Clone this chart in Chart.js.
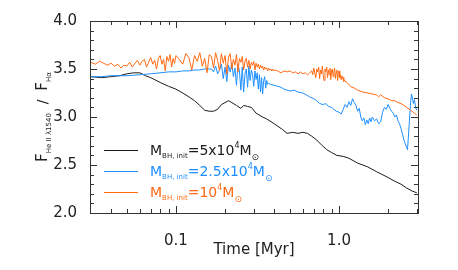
<!DOCTYPE html>
<html>
<head>
<meta charset="utf-8">
<script src="https://cdn.jsdelivr.net/npm/chart.js@4/dist/chart.umd.min.js"></script>
<style>
  html, body { margin: 0; padding: 0; background: #fff; }
  #wrap { width: 458px; height: 270px; }
</style>
</head>
<body>
<div id="wrap"><canvas id="chart" width="458" height="270"></canvas></div>
<script>
// M_BH,init = 5x10^4 Msun
const blackTime = [0.03,0.035,0.04,0.045,0.05,0.055,0.06,0.065,0.07,0.08,0.09,0.1,0.11,0.12,0.13,0.14,0.15,0.16,0.17,0.18,
  0.19,0.2,0.21,0.22,0.235,0.25,0.26,0.275,0.29,0.31,0.34,0.36,0.4,0.45,0.48,0.52,0.56,0.6,0.64,0.68,
  0.73,0.78,0.84,0.9,0.97,1.06,1.15,1.3,1.5,1.7,2.0,2.2,2.4,2.6,2.8,3.0];
const blackRatio = [3.42,3.41,3.42,3.43,3.45,3.46,3.46,3.43,3.41,3.36,3.32,3.29,3.25,3.21,3.17,3.12,3.07,3.06,3.06,3.08,
  3.13,3.15,3.17,3.15,3.12,3.09,3.12,3.11,3.10,3.04,3.00,2.98,2.93,2.87,2.83,2.84,2.83,2.84,2.83,2.80,
  2.76,2.71,2.66,2.63,2.60,2.59,2.57,2.52,2.48,2.43,2.37,2.33,2.30,2.26,2.23,2.21];

// M_BH,init = 2.5x10^4 Msun
const blueTime = [0.03,0.035,0.04,0.05,0.06,0.07,0.08,0.09,0.1,0.11,0.12,0.13,0.14,0.15,0.16,
  0.165,0.17,0.175,0.18,0.185,0.19,0.195,0.2,0.205,0.21,0.215,0.22,0.225,0.23,0.235,0.24,0.245,0.25,0.255,0.26,
  0.265,0.27,0.275,0.28,0.285,0.29,0.295,0.3,0.305,0.31,0.315,0.32,0.325,0.33,0.335,0.34,0.345,0.35,0.355,0.36,
  0.365,0.37,
  0.38,0.40,0.42,0.44,0.46,0.48,0.50,0.53,0.56,0.60,0.63,0.66,0.70,0.73,0.76,0.80,0.83,0.86,0.90,0.93,
  0.96,1.00,1.03,1.06,1.09,1.12,1.15,1.18,1.21,1.24,1.27,1.30,1.33,1.36,1.39,1.42,1.45,1.48,1.51,1.54,
  1.57,1.60,1.65,1.70,1.75,1.80,1.85,1.90,1.95,2.00,2.05,2.10,2.15,2.20,2.25,2.30,2.35,2.40,2.45,2.50,
  2.55,2.60,2.63,2.66,2.70,2.74,2.78,2.82,2.86,2.90,2.95,3.00];
const blueRatio = [3.42,3.42,3.43,3.43,3.44,3.45,3.46,3.47,3.47,3.48,3.48,3.49,3.49,3.50,3.50,
  3.50,3.47,3.53,3.45,3.49,3.55,3.40,3.52,3.37,3.54,3.47,3.56,3.42,3.51,3.33,3.55,3.48,3.28,3.52,3.26,
  3.45,3.50,3.31,3.53,3.38,3.49,3.44,3.32,3.48,3.39,3.46,3.29,3.44,3.26,3.41,3.24,3.38,3.42,3.30,3.38,
  3.34,3.35,
  3.34,3.33,3.32,3.31,3.29,3.28,3.27,3.28,3.26,3.25,3.23,3.21,3.19,3.17,3.14,3.13,3.14,3.11,3.10,3.08,
  3.06,3.05,3.03,3.08,3.13,3.10,3.16,3.12,3.19,3.15,3.12,3.06,3.09,3.00,2.96,2.99,2.92,2.97,2.93,2.99,
  2.95,3.00,2.96,2.98,2.93,2.95,3.05,3.10,3.08,3.13,3.09,3.06,3.04,3.00,3.02,2.96,2.93,2.88,2.82,2.76,
  2.72,2.68,2.66,2.78,2.95,3.12,3.24,3.20,3.14,3.18,3.10,3.07];

// M_BH,init = 10^4 Msun
const orangeTime = [0.030,0.032,0.034,0.036,0.038,0.040,0.042,0.044,0.046,0.048,0.050,0.052,0.054,0.056,0.058,0.060,0.062,0.064,
  0.066,0.068,0.070,0.072,0.074,0.076,0.078,0.080,0.082,0.084,0.086,0.088,0.090,0.092,0.094,0.096,0.098,0.100,
  0.105,0.110,0.115,0.120,0.125,0.130,0.135,0.140,0.145,0.150,0.155,0.160,0.165,0.170,0.175,0.180,0.185,0.190,0.195,0.200,
  0.205,0.210,0.215,0.220,0.225,0.230,0.235,0.240,0.245,0.250,0.255,0.260,0.265,0.270,0.275,0.280,0.285,0.290,0.295,0.300,
  0.305,0.310,0.315,0.320,0.325,0.330,0.335,0.340,0.345,0.350,0.355,0.360,0.365,0.370,0.375,0.380,0.385,0.390,0.395,0.400,
  0.42,0.44,0.46,0.48,0.50,0.52,0.54,0.56,0.58,0.60,0.62,0.64,0.66,
  0.68,0.69,0.70,0.71,0.72,0.73,0.74,0.75,0.76,0.77,0.78,0.79,0.80,0.81,0.82,0.83,0.84,0.85,0.86,0.87,
  0.88,0.89,0.90,0.91,0.92,0.93,0.94,0.95,0.96,0.97,0.98,0.99,1.00,1.01,1.02,1.03,1.04,1.05,1.06,1.07,1.08,
  1.12,1.16,1.2,1.25,1.3,1.4,1.5,1.6,1.7,1.75,1.8,1.9,2.0,2.1,2.2,2.3,2.4,2.5,2.6,2.7,2.8,2.9,3.0];
const orangeRatio = [3.57,3.55,3.58,3.56,3.54,3.56,3.53,3.55,3.51,3.54,3.53,3.57,3.52,3.56,3.59,3.54,3.58,3.60,
  3.52,3.57,3.62,3.55,3.59,3.50,3.61,3.64,3.55,3.60,3.48,3.63,3.58,3.65,3.52,3.61,3.56,3.64,
  3.60,3.55,3.66,3.62,3.49,3.64,3.58,3.67,3.53,3.61,3.46,3.65,3.63,3.51,3.67,3.59,3.48,3.66,3.56,3.64,
  3.45,3.62,3.66,3.50,3.60,3.54,3.65,3.47,3.61,3.57,3.63,3.49,3.58,3.61,3.52,3.59,3.50,3.57,3.54,3.58,
  3.49,3.56,3.52,3.55,3.50,3.54,3.51,3.53,3.49,3.52,3.50,3.51,3.48,3.51,3.49,3.50,3.48,3.50,3.48,3.49,
  3.48,3.46,3.48,3.47,3.48,3.46,3.47,3.45,3.47,3.45,3.46,3.44,3.46,
  3.48,3.44,3.51,3.46,3.41,3.50,3.47,3.52,3.40,3.49,3.45,3.53,3.43,3.38,3.50,3.47,3.52,3.41,3.49,3.44,
  3.51,3.39,3.48,3.50,3.42,3.47,3.51,3.40,3.46,3.49,3.38,3.45,3.48,3.41,3.44,3.39,3.43,3.40,3.41,3.37,3.38,
  3.36,3.33,3.31,3.30,3.28,3.26,3.25,3.24,3.23,3.21,3.23,3.20,3.19,3.17,3.17,3.15,3.14,3.12,3.10,3.08,3.06,3.04,3.02];

const yTicks = [2.0, 2.5, 3.0, 3.5, 4.0];
const xTicks = [0.1, 1];
const xMinor = [0.04,0.05,0.06,0.07,0.08,0.09,0.2,0.3,0.4,0.5,0.6,0.7,0.8,0.9,2,3];

const FONT = '"DejaVu Sans", sans-serif';
const BLACK = '#1a1a1a', BLUE = '#1e8fff', ORANGE = '#ff6a13';

function pts(xs, ys) {
  return xs.map((x, i) => ({ x: x, y: ys[i] }));
}

function drawRich(ctx, x, y, parts) {
  parts.forEach(p => {
    ctx.font = p.s + 'px ' + FONT;
    ctx.fillText(p.t, x, y + (p.dy || 0));
    x += ctx.measureText(p.t).width;
  });
}

function richWidth(ctx, parts) {
  let w = 0;
  parts.forEach(p => {
    ctx.font = p.s + 'px ' + FONT;
    w += ctx.measureText(p.t).width;
  });
  return w;
}

const frameTicks = {
  id: 'frameTicks',
  afterDraw(chart) {
    const ctx = chart.ctx, a = chart.chartArea;
    const xs = chart.scales.x, ys = chart.scales.y;
    ctx.save();
    ctx.strokeStyle = '#333';
    ctx.lineWidth = 1;
    ctx.strokeRect(Math.round(a.left) + 0.5, Math.round(a.top) + 0.5,
      Math.round(a.right - a.left), Math.round(a.bottom - a.top));
    ctx.beginPath();
    // y ticks, inside, both sides
    for (let k = 20; k <= 40; k++) {
      const v = k / 10;
      const py = Math.round(ys.getPixelForValue(v)) + 0.5;
      const len = (k % 5 === 0) ? 7 : 4;
      ctx.moveTo(a.left, py); ctx.lineTo(a.left + len, py);
      ctx.moveTo(a.right, py); ctx.lineTo(a.right - len, py);
    }
    // x ticks, inside, top and bottom
    const xt = xTicks.map(v => [v, 7]).concat(xMinor.map(v => [v, 4]));
    xt.forEach(([v, len]) => {
      const px = Math.round(xs.getPixelForValue(v)) + 0.5;
      ctx.moveTo(px, a.bottom); ctx.lineTo(px, a.bottom - len);
      ctx.moveTo(px, a.top); ctx.lineTo(px, a.top + len);
    });
    ctx.stroke();

    // axis titles
    ctx.fillStyle = '#222';
    ctx.textAlign = 'center';
    ctx.textBaseline = 'middle';
    ctx.font = '15px ' + FONT;
    ctx.fillText('Time [Myr]', (a.left + a.right) / 2, 250);

    const yTitle = [
      { t: 'F', s: 15 }, { t: 'He II λ1540', s: 7, dy: 4 },
      { t: '  /  ', s: 14 },
      { t: 'F', s: 15 }, { t: 'Hα', s: 7, dy: 4 }
    ];
    ctx.save();
    ctx.translate(47, (a.top + a.bottom) / 2);
    ctx.rotate(-Math.PI / 2);
    ctx.textAlign = 'left';
    ctx.textBaseline = 'alphabetic';
    drawRich(ctx, -richWidth(ctx, yTitle) / 2, 0, yTitle);
    ctx.restore();

    // legend
    const rows = [
      { c: BLACK, y: 150, m: '=5x10' },
      { c: BLUE, y: 171, m: '=2.5x10' },
      { c: ORANGE, y: 192, m: '=10' }
    ];
    ctx.textAlign = 'left';
    ctx.textBaseline = 'alphabetic';
    rows.forEach(r => {
      ctx.strokeStyle = r.c;
      ctx.beginPath();
      ctx.moveTo(104, r.y + 0.5); ctx.lineTo(138, r.y + 0.5);
      ctx.stroke();
      ctx.fillStyle = r.c;
      drawRich(ctx, 150, r.y + 5, [
        { t: 'M', s: 14 }, { t: 'BH, init', s: 7, dy: 3 },
        { t: r.m, s: 14 }, { t: '4', s: 8, dy: -7 },
        { t: 'M', s: 14 }, { t: '⊙', s: 9, dy: 5 }
      ]);
    });
    ctx.restore();
  }
};

const data = {
  datasets: [
    { label: '10^4', data: pts(orangeTime, orangeRatio), borderColor: ORANGE },
    { label: '2.5x10^4', data: pts(blueTime, blueRatio), borderColor: BLUE },
    { label: '5x10^4', data: pts(blackTime, blackRatio), borderColor: BLACK }
  ].map(d => Object.assign(d, { borderWidth: 1, pointRadius: 0, fill: false, tension: 0 }))
};

const config = {
  type: 'line',
  data: data,
  options: {
    responsive: false,
    animation: false,
    parsing: false,
    layout: { padding: { top: 21, right: 40, left: 0, bottom: 0 } },
    plugins: { legend: { display: false }, tooltip: { enabled: false } },
    scales: {
      x: {
        type: 'logarithmic',
        min: 0.0297,
        max: 3.05,
        grid: { display: false },
        border: { display: false },
        afterBuildTicks: s => { s.ticks = xTicks.map(v => ({ value: v })); },
        afterFit: s => { s.height = 57; },
        ticks: {
          padding: 11,
          color: '#222',
          font: { family: 'DejaVu Sans', size: 15 },
          maxRotation: 0,
          callback: v => v.toFixed(1)
        }
      },
      y: {
        min: 2.0,
        max: 4.0,
        grid: { display: false },
        border: { display: false },
        afterBuildTicks: s => { s.ticks = yTicks.map(v => ({ value: v })); },
        afterFit: s => { s.width = 90; },
        ticks: {
          padding: 5,
          color: '#222',
          font: { family: 'DejaVu Sans', size: 15 },
          callback: v => v.toFixed(1)
        }
      }
    }
  },
  plugins: [frameTicks]
};

new Chart(document.getElementById('chart').getContext('2d'), config);
</script>
</body>
</html>
